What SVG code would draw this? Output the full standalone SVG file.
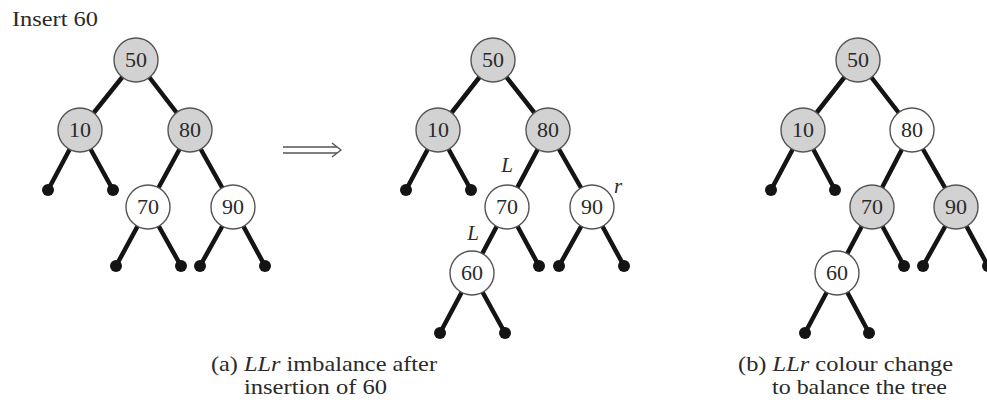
<svg xmlns="http://www.w3.org/2000/svg" width="987" height="404" viewBox="0 0 987 404">
  <style>
    .edge { stroke: #141414; stroke-width: 4.5; stroke-linecap: round; fill: none; }
    .leaf { fill: #141414; }
    .red { fill: #ffffff; stroke: #555; stroke-width: 1.4; }
    .black { fill: #d2d2d2; stroke: #555; stroke-width: 1.4; }
    .key { font-family: "Liberation Serif", "Times New Roman", serif; font-size: 22px; fill: #2a2a2a; text-anchor: middle; }
    .txt { font-family: "Liberation Serif", "Times New Roman", serif; font-size: 21px; fill: #2a2a2a; }
    .dir { font-family: "Liberation Serif", "Times New Roman", serif; font-size: 21px; font-style: italic; fill: #2a2a2a; text-anchor: middle; }
    .arrow { stroke: #555; stroke-width: 1.4; fill: none; }
  </style>

  <rect width="987" height="404" fill="#ffffff"/>

  <text class="txt" x="12" y="26" font-size="22" textLength="86" lengthAdjust="spacingAndGlyphs">Insert 60</text>

  <!-- connectors -->
  <g id="connectors">
    <!-- tree (a) before -->
    <line class="edge" x1="136" y1="60" x2="80" y2="130"/>
    <line class="edge" x1="136" y1="60" x2="190" y2="130"/>
    <line class="edge" x1="80" y1="130" x2="48" y2="190"/>
    <line class="edge" x1="80" y1="130" x2="113" y2="190"/>
    <line class="edge" x1="190" y1="130" x2="148" y2="207"/>
    <line class="edge" x1="190" y1="130" x2="233" y2="207"/>
    <line class="edge" x1="148" y1="207" x2="116" y2="266"/>
    <line class="edge" x1="148" y1="207" x2="181" y2="266"/>
    <line class="edge" x1="233" y1="207" x2="200" y2="266"/>
    <line class="edge" x1="233" y1="207" x2="265" y2="266"/>
    <!-- tree (a) after insertion -->
    <line class="edge" x1="493" y1="60" x2="438" y2="130"/>
    <line class="edge" x1="493" y1="60" x2="548" y2="130"/>
    <line class="edge" x1="438" y1="130" x2="406" y2="190"/>
    <line class="edge" x1="438" y1="130" x2="471" y2="190"/>
    <line class="edge" x1="548" y1="130" x2="507" y2="207"/>
    <line class="edge" x1="548" y1="130" x2="592" y2="207"/>
    <line class="edge" x1="507" y1="207" x2="472" y2="273"/>
    <line class="edge" x1="507" y1="207" x2="539" y2="266"/>
    <line class="edge" x1="592" y1="207" x2="559" y2="266"/>
    <line class="edge" x1="592" y1="207" x2="624" y2="266"/>
    <line class="edge" x1="472" y1="273" x2="440" y2="333"/>
    <line class="edge" x1="472" y1="273" x2="505" y2="333"/>
    <!-- tree (b) -->
    <line class="edge" x1="858" y1="60" x2="803" y2="130"/>
    <line class="edge" x1="858" y1="60" x2="912" y2="130"/>
    <line class="edge" x1="803" y1="130" x2="771" y2="190"/>
    <line class="edge" x1="803" y1="130" x2="835" y2="190"/>
    <line class="edge" x1="912" y1="130" x2="872" y2="207"/>
    <line class="edge" x1="912" y1="130" x2="956" y2="207"/>
    <line class="edge" x1="872" y1="207" x2="837" y2="273"/>
    <line class="edge" x1="872" y1="207" x2="904" y2="266"/>
    <line class="edge" x1="956" y1="207" x2="923" y2="266"/>
    <line class="edge" x1="956" y1="207" x2="988" y2="266"/>
    <line class="edge" x1="837" y1="273" x2="805" y2="333"/>
    <line class="edge" x1="837" y1="273" x2="869" y2="333"/>

    <!-- null leaves -->
    <circle class="leaf" cx="48" cy="190" r="6"/>
    <circle class="leaf" cx="113" cy="190" r="6"/>
    <circle class="leaf" cx="116" cy="266" r="6"/>
    <circle class="leaf" cx="181" cy="266" r="6"/>
    <circle class="leaf" cx="200" cy="266" r="6"/>
    <circle class="leaf" cx="265" cy="266" r="6"/>

    <circle class="leaf" cx="406" cy="190" r="6"/>
    <circle class="leaf" cx="471" cy="190" r="6"/>
    <circle class="leaf" cx="539" cy="266" r="6"/>
    <circle class="leaf" cx="559" cy="266" r="6"/>
    <circle class="leaf" cx="624" cy="266" r="6"/>
    <circle class="leaf" cx="440" cy="333" r="6"/>
    <circle class="leaf" cx="505" cy="333" r="6"/>

    <circle class="leaf" cx="771" cy="190" r="6"/>
    <circle class="leaf" cx="835" cy="190" r="6"/>
    <circle class="leaf" cx="904" cy="266" r="6"/>
    <circle class="leaf" cx="923" cy="266" r="6"/>
    <circle class="leaf" cx="988" cy="266" r="6"/>
    <circle class="leaf" cx="805" cy="333" r="6"/>
    <circle class="leaf" cx="869" cy="333" r="6"/>
  </g>

  <!-- transition arrow -->
  <g id="arrow">
    <line class="arrow" x1="283" y1="147" x2="337" y2="147"/>
    <line class="arrow" x1="283" y1="153" x2="337" y2="153"/>
    <path class="arrow" d="M332,143 L341,150 L332,157"/>
  </g>

  <!-- tree (a) before -->
  <g id="a1-n50"><circle class="black" cx="136" cy="60" r="22"/><text class="key" x="136" y="67">50</text></g>
  <g id="a1-n10"><circle class="black" cx="80" cy="130" r="22"/><text class="key" x="80" y="137">10</text></g>
  <g id="a1-n80"><circle class="black" cx="190" cy="130" r="22"/><text class="key" x="190" y="137">80</text></g>
  <g id="a1-n70"><circle class="red" cx="148" cy="207" r="22"/><text class="key" x="148" y="214">70</text></g>
  <g id="a1-n90"><circle class="red" cx="233" cy="207" r="22"/><text class="key" x="233" y="214">90</text></g>

  <!-- tree (a) after insertion -->
  <g id="a2-n50"><circle class="black" cx="493" cy="60" r="22"/><text class="key" x="493" y="67">50</text></g>
  <g id="a2-n10"><circle class="black" cx="438" cy="130" r="22"/><text class="key" x="438" y="137">10</text></g>
  <g id="a2-n80"><circle class="black" cx="548" cy="130" r="22"/><text class="key" x="548" y="137">80</text></g>
  <g id="a2-n70"><circle class="red" cx="507" cy="207" r="22"/><text class="key" x="507" y="214">70</text></g>
  <g id="a2-n90"><circle class="red" cx="592" cy="207" r="22"/><text class="key" x="592" y="214">90</text></g>
  <g id="a2-n60"><circle class="red" cx="472" cy="273" r="22"/><text class="key" x="472" y="280">60</text></g>
  <g id="a2-labels">
    <text class="dir" x="507" y="172">L</text>
    <text class="dir" x="473" y="240">L</text>
    <text class="dir" x="618" y="193">r</text>
  </g>

  <!-- tree (b) after recolouring -->
  <g id="b-n50"><circle class="black" cx="858" cy="60" r="22"/><text class="key" x="858" y="67">50</text></g>
  <g id="b-n10"><circle class="black" cx="803" cy="130" r="22"/><text class="key" x="803" y="137">10</text></g>
  <g id="b-n80"><circle class="red" cx="912" cy="130" r="22"/><text class="key" x="912" y="137">80</text></g>
  <g id="b-n70"><circle class="black" cx="872" cy="207" r="22"/><text class="key" x="872" y="214">70</text></g>
  <g id="b-n90"><circle class="black" cx="956" cy="207" r="22"/><text class="key" x="956" y="214">90</text></g>
  <g id="b-n60"><circle class="red" cx="837" cy="273" r="22"/><text class="key" x="837" y="280">60</text></g>

  <!-- captions -->
  <g id="captions">
    <text class="txt" x="211" y="371" textLength="226" lengthAdjust="spacingAndGlyphs">(a) <tspan font-style="italic">LLr</tspan> imbalance after</text>
    <text class="txt" x="244" y="394" textLength="143" lengthAdjust="spacingAndGlyphs">insertion of 60</text>
    <text class="txt" x="738" y="371" textLength="215" lengthAdjust="spacingAndGlyphs">(b) <tspan font-style="italic">LLr</tspan> colour change</text>
    <text class="txt" x="772" y="394" textLength="175" lengthAdjust="spacingAndGlyphs">to balance the tree</text>
  </g>
</svg>
